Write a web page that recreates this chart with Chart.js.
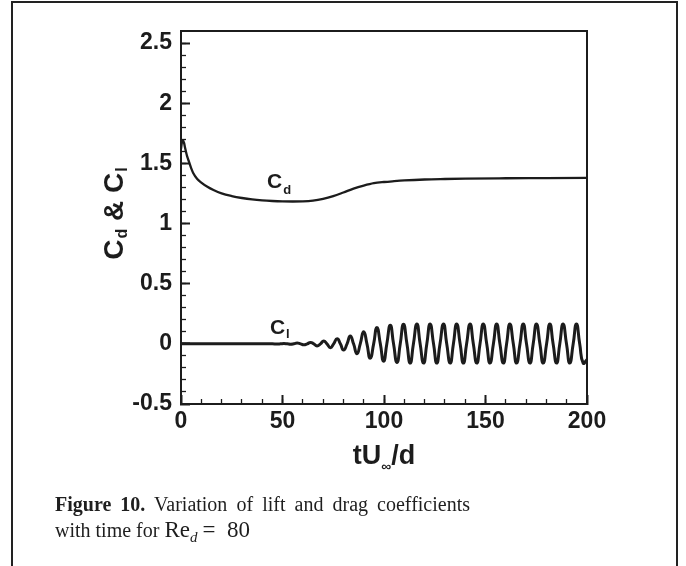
<!DOCTYPE html>
<html>
<head>
<meta charset="utf-8">
<script src="https://cdn.jsdelivr.net/npm/chart.js@4.4.1/dist/chart.umd.min.js"></script>
<style>
html,body{margin:0;padding:0;background:#fff;}
body{width:686px;height:566px;position:relative;overflow:hidden;}
#chart{position:absolute;left:0;top:0;}
#frame{position:absolute;left:11px;top:1px;width:667px;height:620px;border:2px solid #222;border-bottom:none;box-sizing:border-box;pointer-events:none;}
.cap{position:absolute;left:55px;font-family:"Liberation Serif","Times New Roman",serif;font-size:20px;line-height:26px;color:#1e1e1e;white-space:nowrap;}
#cap1{top:491px;width:415px;text-align:justify;text-align-last:justify;white-space:normal;}
#cap2{top:517px;}
.m{font-size:23px;}
.sub{font-size:15px;font-style:italic;position:relative;top:5px;}
</style>
</head>
<body>
<canvas id="chart" width="686" height="566"></canvas>
<div id="frame"></div>
<div class="cap" id="cap1"><b>Figure 10.</b> Variation of lift and drag coefficients</div>
<div class="cap" id="cap2">with time for <span class="m">Re</span><span class="sub">d</span> <span class="m">=&nbsp; 80</span></div>
<script>
// ---- data ----
const cdTime  = [0, 0.5, 1, 1.5, 2, 3, 4, 5, 6, 8, 10, 13, 16, 20, 25, 30, 35, 40, 45, 50, 55, 60, 65, 70, 75, 80, 85, 90, 95, 100, 105, 110, 120, 130, 140, 160, 180, 200];
const cdValue = [1.62, 1.68, 1.69, 1.67, 1.63, 1.56, 1.51, 1.46, 1.42, 1.37, 1.34, 1.305, 1.278, 1.25, 1.228, 1.212, 1.2, 1.192, 1.187, 1.184, 1.183, 1.184, 1.19, 1.205, 1.228, 1.258, 1.29, 1.315, 1.335, 1.345, 1.352, 1.358, 1.366, 1.37, 1.373, 1.376, 1.378, 1.38];

const clTime  = [0, 45, 47.4, 49.0, 50.7, 52.3, 54.0, 55.6,
  57.2, 58.9, 60.5, 62.2, 63.8, 65.4, 67.0, 68.7, 70.3, 71.9, 73.6, 75.2,
  76.9, 78.5, 80.1, 81.8, 83.4, 85.0, 86.7, 88.3, 90.0, 91.6, 93.2, 94.9,
  96.5, 98.2, 99.8, 101.4, 103.1, 104.7, 106.4, 108.0, 109.6, 111.3, 112.9, 114.5,
  116.2, 117.8, 119.5, 121.1, 122.7, 124.4, 126.0, 127.6, 129.3, 130.9, 132.6, 134.2,
  135.8, 137.5, 139.1, 140.7, 142.4, 144.0, 145.7, 147.3, 148.9, 150.6, 152.2, 153.9,
  155.5, 157.1, 158.8, 160.4, 162.0, 163.7, 165.3, 167.0, 168.6, 170.2, 171.9, 173.5,
  175.1, 176.8, 178.4, 180.1, 181.7, 183.3, 185.0, 186.6, 188.2, 189.9, 191.5, 193.2,
  194.8, 196.4, 198.1, 200];
const clValue = [0, 0, -0.001, 0, 0.002, 0, -0.003, 0,
  0.006, 0, -0.008, 0, 0.012, 0, -0.017, 0, 0.024, 0, -0.032, 0,
  0.042, 0, -0.052, 0, 0.065, 0, -0.082, 0, 0.1, 0, -0.12, 0,
  0.135, 0, -0.145, 0, 0.155, 0, -0.155, 0, 0.162, 0, -0.16, 0,
  0.165, 0, -0.16, 0, 0.165, 0, -0.16, 0, 0.165, 0, -0.16, 0,
  0.165, 0, -0.16, 0, 0.165, 0, -0.16, 0, 0.165, 0, -0.16, 0,
  0.165, 0, -0.16, 0, 0.165, 0, -0.16, 0, 0.165, 0, -0.16, 0,
  0.165, 0, -0.16, 0, 0.165, 0, -0.16, 0, 0.165, 0, -0.16, 0,
  0.165, 0, -0.16, -0.13];

const xTickValues = [0, 50, 100, 150, 200];
const yTickValues = [-0.5, 0, 0.5, 1, 1.5, 2, 2.5];
const xRange = [0, 200];
const yRange = [-0.5, 2.6];
const xMinorStep = 10;
const yMinorStep = 0.1;

// annotation anchors (data coordinates)
const cdLabelAt = [42.4, 1.292];
const clLabelAt = [43.8, 0.083];

const INK = '#1c1c1c';
const SANS = '"Liberation Sans", Arial, Helvetica, sans-serif';

function toPoints(xs, ys) { return xs.map((x, i) => ({x: x, y: ys[i]})); }

const textPlugin = {
  id: 'texts',
  afterDraw(chart) {
    const ctx = chart.ctx, xs = chart.scales.x, ys = chart.scales.y, ca = chart.chartArea;
    ctx.save();
    ctx.fillStyle = INK;
    ctx.textBaseline = 'alphabetic';
    ctx.textAlign = 'left';
    const width = parts => parts.reduce((w, p) => { ctx.font = 'bold ' + p.size + 'px ' + SANS; return w + ctx.measureText(p.t).width + (p.gap || 0); }, 0);
    const draw = (parts, x, y) => {
      let cx = x;
      parts.forEach(p => {
        ctx.font = 'bold ' + p.size + 'px ' + SANS;
        ctx.fillText(p.t, cx, y + (p.dy || 0));
        cx += ctx.measureText(p.t).width + (p.gap || 0);
      });
    };
    // curve labels
    draw([{t: 'C', size: 21, gap: 1}, {t: 'd', size: 13, dy: 6}], xs.getPixelForValue(cdLabelAt[0]), ys.getPixelForValue(cdLabelAt[1]));
    draw([{t: 'C', size: 21, gap: 1}, {t: 'l', size: 13, dy: 4}], xs.getPixelForValue(clLabelAt[0]), ys.getPixelForValue(clLabelAt[1]));
    // x-axis title
    const xt = [{t: 'tU', size: 27}, {t: '\u221E', size: 14, dy: 7}, {t: '/d', size: 27}];
    draw(xt, (ca.left + ca.right) / 2 - width(xt) / 2, ca.bottom + 60);
    // y-axis title (rotated)
    const yt = [{t: 'C', size: 28, gap: 1}, {t: 'd', size: 16, dy: 4}, {t: ' & ', size: 28}, {t: 'C', size: 28, gap: 1}, {t: 'l', size: 16, dy: 4}];
    ctx.translate(ca.left - 58, (ca.top + ca.bottom) / 2 - 4);
    ctx.rotate(-Math.PI / 2);
    draw(yt, -width(yt) / 2, 0);
    ctx.restore();
  }
};

const tickFont = {family: SANS, size: 23, weight: 'bold', lineHeight: 1};
const fmt = v => String(Math.round(v * 10) / 10);

function minorTicks(step, range) {
  return s => {
    const out = [];
    const n = Math.round((range[1] - range[0]) / step);
    for (let i = 1; i < n; i++) out.push({value: range[0] + i * step});
    s.ticks = out;
  };
}

new Chart(document.getElementById('chart'), {
  type: 'line',
  data: {
    datasets: [
      {label: 'Cd', data: toPoints(cdTime, cdValue), borderColor: INK, borderWidth: 2.3, pointRadius: 0, fill: false, cubicInterpolationMode: 'monotone'},
      {label: 'Cl', data: toPoints(clTime, clValue), borderColor: INK, borderWidth: 3, pointRadius: 0, fill: false, tension: 0.55, borderJoinStyle: 'round', borderCapStyle: 'round'}
    ]
  },
  options: {
    responsive: false,
    devicePixelRatio: 1,
    animation: false,
    events: [],
    layout: {padding: {left: 0, top: 31, right: 99, bottom: 0}},
    plugins: {legend: {display: false}, tooltip: {enabled: false}, title: {display: false}},
    scales: {
      x: {
        type: 'linear', position: 'bottom', weight: 2, min: xRange[0], max: xRange[1],
        afterBuildTicks: s => { s.ticks = xTickValues.map(v => ({value: v})); },
        afterFit: s => { s.height = 162; },
        grid: {drawOnChartArea: false, tickLength: -9, tickWidth: 2, tickColor: INK},
        border: {display: true, width: 2, color: INK},
        ticks: {autoSkip: false, maxRotation: 0, padding: 15, color: INK, font: tickFont, callback: fmt}
      },
      xMinor: {
        type: 'linear', position: 'bottom', weight: 1, min: xRange[0], max: xRange[1],
        afterBuildTicks: minorTicks(xMinorStep, xRange),
        afterFit: s => { s.height = 0; },
        grid: {drawOnChartArea: false, tickLength: -5, tickWidth: 1.3, tickColor: INK},
        border: {display: true, width: 2, color: INK},
        ticks: {display: false}
      },
      xTop: {
        type: 'linear', position: 'top', min: xRange[0], max: xRange[1],
        afterFit: s => { s.height = 0; },
        grid: {drawOnChartArea: false, drawTicks: false},
        border: {display: true, width: 2, color: INK},
        ticks: {display: false}
      },
      y: {
        type: 'linear', position: 'left', weight: 2, min: yRange[0], max: yRange[1],
        afterBuildTicks: s => { s.ticks = yTickValues.map(v => ({value: v})); },
        afterFit: s => { s.width = 181; },
        grid: {drawOnChartArea: false, tickLength: -9, tickWidth: 2, tickColor: INK},
        border: {display: true, width: 2, color: INK},
        ticks: {padding: 18, color: INK, font: tickFont, callback: fmt}
      },
      yMinor: {
        type: 'linear', position: 'left', weight: 1, min: yRange[0], max: yRange[1],
        afterBuildTicks: minorTicks(yMinorStep, yRange),
        afterFit: s => { s.width = 0; },
        grid: {drawOnChartArea: false, tickLength: -5, tickWidth: 1.3, tickColor: INK},
        border: {display: true, width: 2, color: INK},
        ticks: {display: false}
      },
      yRight: {
        type: 'linear', position: 'right', min: yRange[0], max: yRange[1],
        afterFit: s => { s.width = 0; },
        grid: {drawOnChartArea: false, drawTicks: false},
        border: {display: true, width: 2, color: INK},
        ticks: {display: false}
      }
    }
  },
  plugins: [textPlugin]
});
</script>
</body>
</html>
